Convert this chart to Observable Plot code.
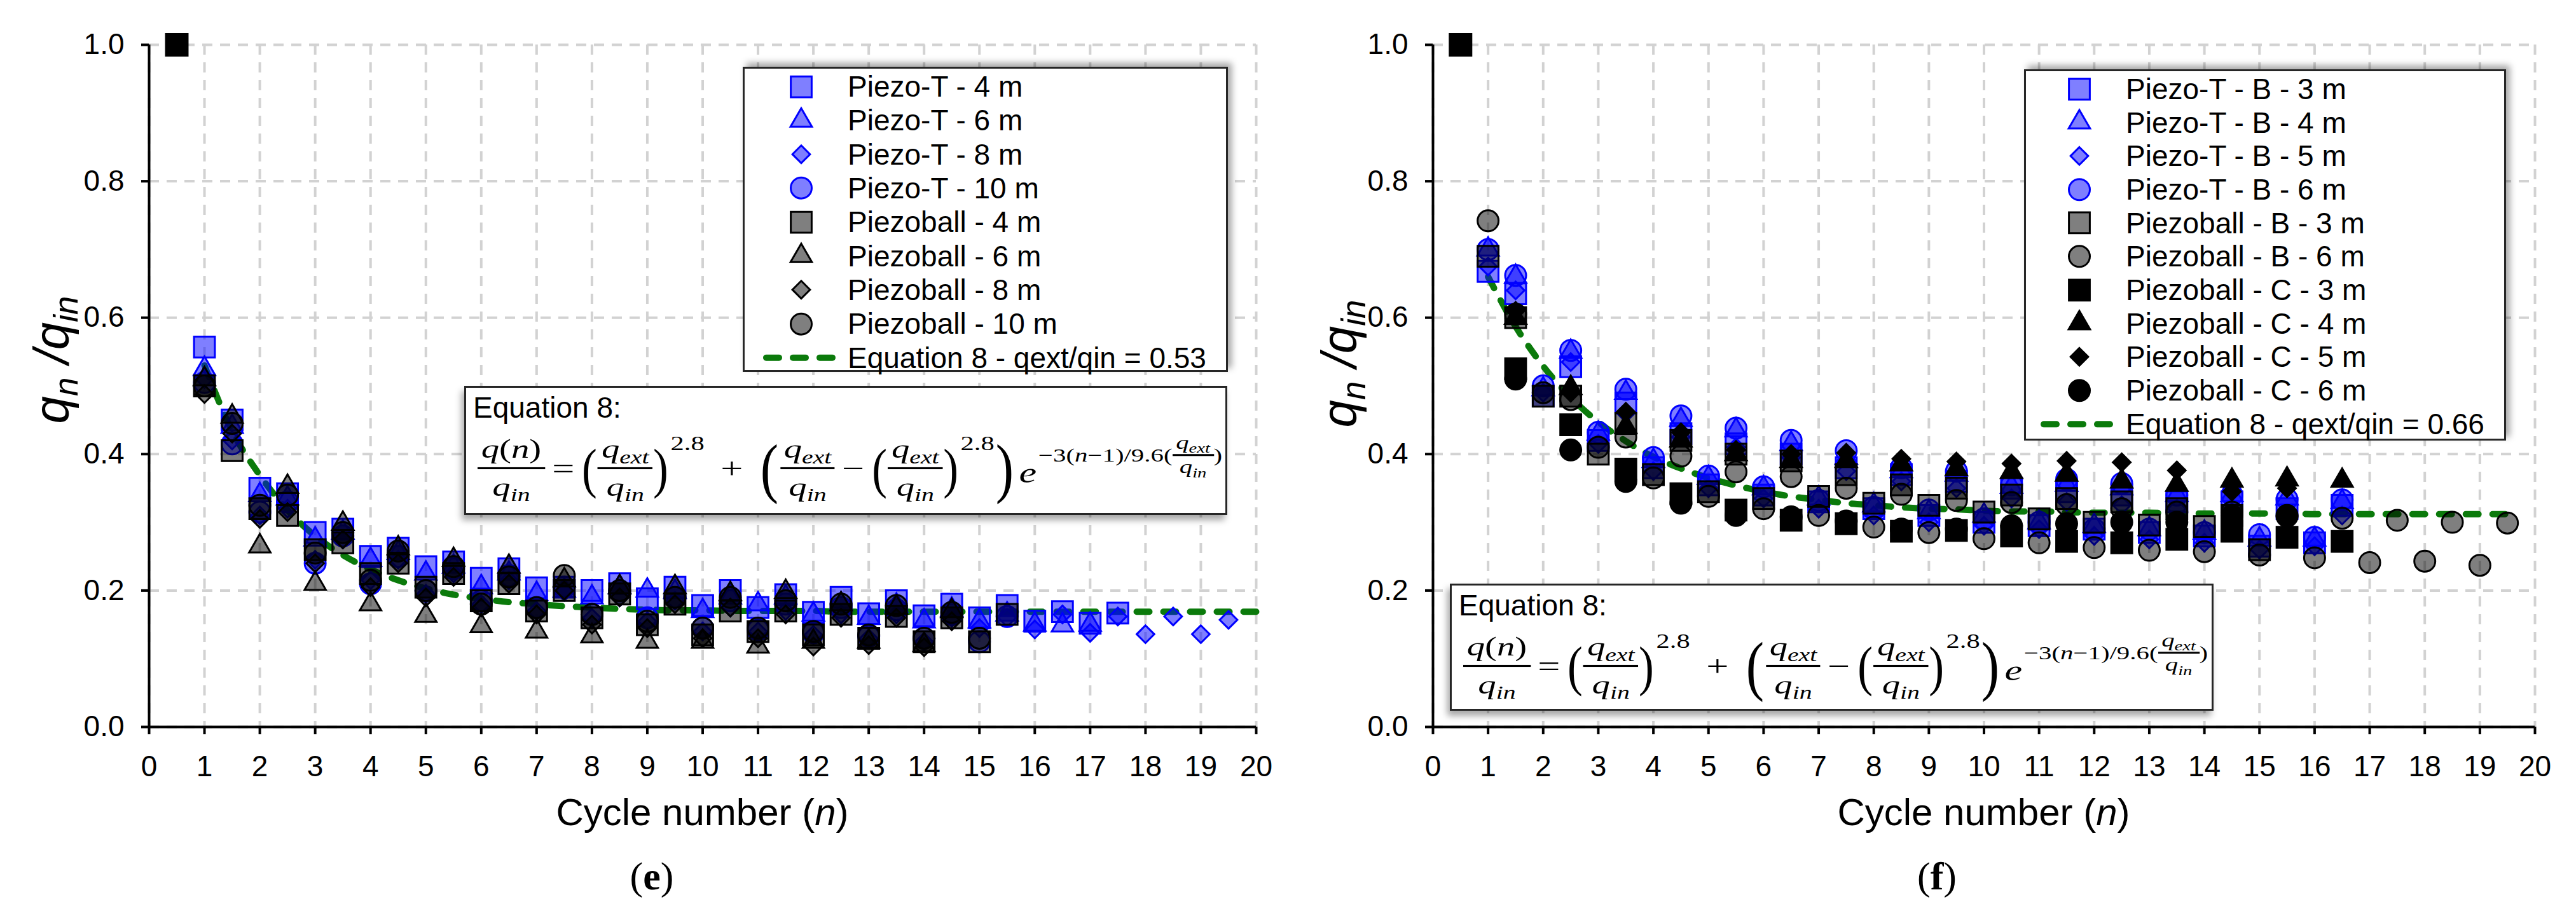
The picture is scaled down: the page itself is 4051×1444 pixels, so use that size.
<!DOCTYPE html>
<html>
<head>
<meta charset="utf-8">
<script src="https://cdn.jsdelivr.net/npm/d3@7"></script>
<script src="https://cdn.jsdelivr.net/npm/@observablehq/plot@0.6"></script>
<style>
  body { margin: 0; background: #fff; }
  #fig { position: relative; width: 4051px; height: 1444px; font-family: "Liberation Sans", Arial, sans-serif; color: #000; overflow: hidden; }
  .panel { position: absolute; top: 0; height: 1444px; }
  .panel svg { position: absolute; left: 0; top: 0; }
  .legend, .eqbox { position: absolute; background: #fff; border: 3px solid #262626; box-sizing: border-box; }
  .legend { box-shadow: 6px -6px 10px rgba(0,0,0,.35); }
  .eqbox { box-shadow: -4px 8px 10px rgba(0,0,0,.35); }
  .row { position: absolute; left: 0; right: 0; display: flex; align-items: center; font-size: 46px; white-space: nowrap; }
  .row svg { position: static; flex: none; }
  .eqtitle { position: absolute; left: 11px; top: 4px; font-size: 46px; white-space: nowrap; }
  .formula { position: absolute; transform-origin: 0 0; display: flex; align-items: center; white-space: nowrap;
             font-family: "Liberation Serif", "DejaVu Serif", serif; font-size: 40px; }
  .formula sub { font-size: .7em; vertical-align: -.3em; line-height: 0; }
  .frac { display: inline-flex; flex-direction: column; align-items: center; line-height: 1.3; }
  .frac .num { border-bottom: 3px solid #000; padding: 0 4px 1px; }
  .frac .den { padding-top: 1px; }
  .bp { font-size: 2.1em; line-height: 1; display: inline-block; transform: scaleX(.6); margin: 0 -5px; }
  .bp.xl { font-size: 2.5em; }
  .op { margin: 0 8px; font-size: 1.1em; }
  .sup { align-self: flex-start; font-size: .75em; margin-left: 2px; }
  .exp { display: inline-flex; align-items: center; font-size: .72em; }
  .exp .frac { line-height: 1.1; }
  .ylab { position: absolute; transform: translate(-50%, -50%) rotate(-90deg); font-size: 78px; font-style: italic; white-space: nowrap; }
  .ylab sub { font-size: .68em; vertical-align: -.25em; }
  .xlab { position: absolute; transform: translate(-50%, -50%); font-size: 60px; white-space: nowrap; }
  .cap { position: absolute; transform: translate(-50%, -50%); font-size: 62px; font-family: "Liberation Serif", serif; }
</style>
</head>
<body>
<div id="fig"></div>
<script>
// axes
const xTicks = [0, 1, 2, 3, 4, 5, 6, 7, 8, 9, 10, 11, 12, 13, 14, 15, 16, 17, 18, 19, 20];
const yTicks = [0, 0.2, 0.4, 0.6, 0.8, 1.0];

// first point, both panels
const firstCycle = [0.5];
const firstValue = [1.0];

// ---- panel (e) ----
const cyclesE = [1, 1.5, 2, 2.5, 3, 3.5, 4, 4.5, 5, 5.5, 6, 6.5, 7, 7.5, 8, 8.5, 9, 9.5, 10, 10.5,
  11, 11.5, 12, 12.5, 13, 13.5, 14, 14.5, 15, 15.5, 16, 16.5, 17, 17.5, 18, 18.5, 19, 19.5, 20];
const labelsE = ["Piezo-T - 4 m", "Piezo-T - 6 m", "Piezo-T - 8 m", "Piezo-T - 10 m",
  "Piezoball - 4 m", "Piezoball - 6 m", "Piezoball - 8 m", "Piezoball - 10 m"];
const piezoT4E = [0.557, 0.45, 0.35, 0.342, 0.285, 0.29, 0.25, 0.262, 0.235, 0.242, 0.218, 0.232, 0.204, 0.205, 0.2, 0.21, 0.188, 0.205, 0.178, 0.2,
  0.175, 0.194, 0.168, 0.19, 0.166, 0.185, 0.163, 0.18, 0.16, 0.178, 0.155, 0.169, 0.152, 0.167, null, null, null, null, null];
const piezoT6E = [0.525, 0.44, 0.34, 0.335, 0.275, 0.285, 0.245, 0.255, 0.225, 0.235, 0.205, 0.225, 0.195, 0.2, 0.19, 0.205, 0.2, 0.198, 0.17, 0.19,
  0.18, 0.19, 0.165, 0.18, 0.16, 0.178, 0.155, 0.172, 0.155, 0.165, 0.15, 0.149, 0.15, null, null, null, null, null, null];
const piezoT8E = [0.51, 0.42, 0.31, 0.32, 0.245, 0.275, 0.215, 0.245, 0.195, 0.225, 0.18, 0.215, 0.17, 0.198, 0.16, 0.19, 0.155, 0.185, 0.14, 0.175,
  0.14, 0.17, 0.135, 0.165, 0.13, 0.165, 0.125, 0.16, 0.145, 0.16, 0.143, 0.165, 0.138, 0.162, 0.136, 0.162, 0.136, 0.157, null];
const piezoT10E = [0.505, 0.415, 0.315, 0.33, 0.24, 0.28, 0.21, 0.25, 0.2, 0.232, 0.185, 0.222, 0.175, 0.205, 0.165, 0.2, 0.16, 0.19, 0.145, 0.185,
  0.142, 0.18, 0.138, 0.175, 0.133, 0.172, 0.13, 0.165, 0.125, 0.162, null, null, null, null, null, null, null, null, null];
const ball4E = [0.5, 0.405, 0.32, 0.31, 0.26, 0.27, 0.225, 0.24, 0.205, 0.225, 0.185, 0.21, 0.17, 0.2, 0.16, 0.195, 0.15, 0.18, 0.135, 0.17,
  0.14, 0.17, 0.135, 0.165, 0.13, 0.162, 0.125, 0.16, 0.125, 0.165, null, null, null, null, null, null, null, null, null];
const ball6E = [0.51, 0.455, 0.265, 0.352, 0.21, 0.298, 0.18, 0.262, 0.163, 0.245, 0.148, 0.235, 0.14, 0.215, 0.133, 0.205, 0.125, 0.205, 0.125, 0.195,
  0.118, 0.198, 0.125, 0.18, 0.125, 0.175, 0.12, 0.17, null, null, null, null, null, null, null, null, null, null, null];
const ball8E = [0.488, 0.43, 0.305, 0.315, 0.24, 0.275, 0.205, 0.24, 0.19, 0.22, 0.175, 0.21, 0.165, 0.2, 0.15, 0.19, 0.145, 0.18, 0.13, 0.175,
  0.13, 0.165, 0.118, 0.16, 0.12, 0.16, 0.117, 0.155, null, null, null, null, null, null, null, null, null, null, null];
const ball10E = [0.5, 0.445, 0.325, 0.34, 0.255, 0.285, 0.215, 0.258, 0.2, 0.235, 0.18, 0.22, 0.175, 0.222, 0.165, 0.2, 0.155, 0.19, 0.145, 0.19,
  0.145, 0.185, 0.14, 0.18, 0.135, 0.178, 0.13, 0.168, 0.13, null, null, null, null, null, null, null, null, null, null];
const eqLabelE = "Equation 8 - qext/qin = 0.53";
const eqLineE = [0.53, 0.434, 0.369, 0.318, 0.28, 0.252, 0.231, 0.215, 0.203, 0.194, 0.188, 0.183, 0.18, 0.177, 0.175, 0.173, 0.172, 0.171, 0.171, 0.17,
  0.17, 0.17, 0.17, 0.169, 0.169, 0.169, 0.169, 0.169, 0.169, 0.169, 0.169, 0.169, 0.169, 0.169, 0.169, 0.169, 0.169, 0.169, 0.169];

// ---- panel (f) ----
const cyclesF = [1, 1.5, 2, 2.5, 3, 3.5, 4, 4.5, 5, 5.5, 6, 6.5, 7, 7.5, 8, 8.5, 9, 9.5, 10, 10.5,
  11, 11.5, 12, 12.5, 13, 13.5, 14, 14.5, 15, 15.5, 16, 16.5, 17, 17.5, 18, 18.5, 19, 19.5];
const labelsF = ["Piezo-T - B - 3 m", "Piezo-T - B - 4 m", "Piezo-T - B - 5 m", "Piezo-T - B - 6 m",
  "Piezoball - B - 3 m", "Piezoball - B - 6 m", "Piezoball - C - 3 m", "Piezoball - C - 4 m",
  "Piezoball - C - 5 m", "Piezoball - C - 6 m"];
const piezoTB3F = [0.668, 0.635, 0.485, 0.528, 0.42, 0.475, 0.38, 0.43, 0.355, 0.415, 0.34, 0.4, 0.33, 0.38, 0.32, 0.37, 0.31, 0.36, 0.3, 0.35,
  0.295, 0.345, 0.29, 0.34, 0.285, 0.33, 0.28, 0.33, 0.265, 0.32, 0.27, 0.325, null, null, null, null, null, null];
const piezoTB4F = [0.7, 0.66, 0.495, 0.55, 0.43, 0.49, 0.39, 0.45, 0.365, 0.435, 0.35, 0.415, 0.335, 0.395, 0.325, 0.375, 0.315, 0.37, 0.31, 0.352,
  0.3, 0.355, 0.295, 0.35, 0.29, 0.34, 0.285, 0.34, 0.275, 0.335, 0.275, 0.33, null, null, null, null, null, null];
const piezoTB5F = [0.675, 0.64, 0.49, 0.535, 0.415, 0.46, 0.375, 0.425, 0.35, 0.41, 0.335, 0.395, 0.32, 0.375, 0.31, 0.36, 0.3, 0.35, 0.295, 0.335,
  0.29, 0.33, 0.28, 0.325, 0.275, 0.32, 0.27, 0.315, 0.26, 0.31, 0.265, 0.31, null, null, null, null, null, null];
const piezoTB6F = [0.7, 0.662, 0.5, 0.552, 0.432, 0.495, 0.395, 0.456, 0.368, 0.438, 0.352, 0.42, 0.332, 0.405, 0.322, 0.38, 0.318, 0.375, 0.305, 0.355,
  0.3, 0.363, 0.29, 0.357, 0.29, 0.34, 0.285, 0.34, 0.282, 0.334, 0.278, 0.333, null, null, null, null, null, null];
const ballB3F = [0.69, 0.6, 0.485, 0.485, 0.4, 0.445, 0.37, 0.42, 0.345, 0.4, 0.335, 0.39, 0.338, 0.37, 0.328, 0.355, 0.325, 0.35, 0.315, 0.34,
  0.305, 0.335, 0.3, 0.33, 0.296, 0.32, 0.294, 0.31, 0.26, null, null, null, null, null, null, null, null, null];
const ballB6F = [0.742, 0.605, 0.49, 0.48, 0.41, 0.425, 0.365, 0.397, 0.338, 0.374, 0.32, 0.367, 0.31, 0.35, 0.293, 0.341, 0.285, 0.332, 0.276, 0.329,
  0.27, 0.326, 0.263, 0.32, 0.259, 0.315, 0.257, 0.315, 0.252, 0.31, 0.248, 0.306, 0.241, 0.303, 0.243, 0.3, 0.237, 0.299];
const ballC3F = [null, 0.525, null, 0.443, null, 0.378, null, 0.342, null, 0.318, null, 0.303, null, 0.298, null, 0.287, null, 0.288, null, 0.28,
  null, 0.272, null, 0.27, null, 0.275, null, 0.287, null, 0.278, null, 0.272, null, null, null, null, null, null];
const ballC4F = [null, 0.6, null, 0.497, null, 0.44, null, 0.42, null, 0.4, null, 0.39, null, 0.39, null, 0.385, null, 0.378, null, 0.374,
  null, 0.37, null, 0.36, null, 0.355, null, 0.361, null, 0.363, null, 0.361, null, null, null, null, null, null];
const ballC5F = [null, 0.61, null, 0.49, null, 0.462, null, 0.432, null, 0.406, null, 0.4, null, 0.402, null, 0.393, null, 0.389, null, 0.386,
  null, 0.39, null, 0.388, null, 0.376, null, 0.345, null, 0.35, null, null, null, null, null, null, null, null];
const ballC6F = [null, 0.51, null, 0.406, null, 0.36, null, 0.328, null, 0.31, null, 0.308, null, 0.302, null, 0.29, null, 0.29, null, 0.295,
  null, 0.298, null, 0.3, null, 0.3, null, 0.31, null, 0.309, null, null, null, null, null, null, null, null];
const eqLabelF = "Equation 8 - qext/qin = 0.66";
const eqLineF = [0.66, 0.587, 0.529, 0.483, 0.447, 0.419, 0.396, 0.379, 0.365, 0.354, 0.345, 0.338, 0.333, 0.328, 0.325, 0.322, 0.32, 0.319, 0.317, 0.316,
  0.316, 0.315, 0.314, 0.314, 0.314, 0.313, 0.313, 0.313, 0.313, 0.313, 0.312, 0.312, 0.312, 0.312, 0.312, 0.312, 0.312, 0.312];

// marker looks
const look = {
  blue: {fill: "#0000ff", fillOpacity: 0.5, stroke: "#0000ff"},
  gray: {fill: "#000", fillOpacity: 0.5, stroke: "#000"},
  black: {fill: "#000", fillOpacity: 1, stroke: "#000"}
};
const radius = {square: 18.5, triangle: 12.5, diamond2: 12.5, circle: 16.5};
const d3sym = {square: d3.symbolSquare, triangle: d3.symbolTriangle, diamond2: d3.symbolDiamond2, circle: d3.symbolCircle};
const green = "#0b7a0b";

const seriesE = [
  [piezoT4E, "square", "blue"], [piezoT6E, "triangle", "blue"], [piezoT8E, "diamond2", "blue"], [piezoT10E, "circle", "blue"],
  [ball4E, "square", "gray"], [ball6E, "triangle", "gray"], [ball8E, "diamond2", "gray"], [ball10E, "circle", "gray"]
].map(([values, symbol, kind], i) => ({values, symbol, kind, label: labelsE[i]}));

const seriesF = [
  [piezoTB3F, "square", "blue"], [piezoTB4F, "triangle", "blue"], [piezoTB5F, "diamond2", "blue"], [piezoTB6F, "circle", "blue"],
  [ballB3F, "square", "gray"], [ballB6F, "circle", "gray"], [ballC3F, "square", "black"], [ballC4F, "triangle", "black"],
  [ballC5F, "diamond2", "black"], [ballC6F, "circle", "black"]
].map(([values, symbol, kind], i) => ({values, symbol, kind, label: labelsF[i]}));

const QEXT = '<i>q</i><sub><i>ext</i></sub>';
const QIN = '<i>q</i><sub><i>in</i></sub>';
const frac = (a, b) => `<span class="frac"><span class="num">${a}</span><span class="den">${b}</span></span>`;
const formulaHTML =
  frac('<i>q</i>(<i>n</i>)', QIN) +
  '<span class="op">=</span>' +
  '<span class="bp">(</span>' + frac(QEXT, QIN) + '<span class="bp">)</span><span class="sup">2.8</span>' +
  '<span class="op" style="margin:0 18px">+</span>' +
  '<span class="bp xl">(</span>' + frac(QEXT, QIN) + '<span class="op">−</span>' +
  '<span class="bp">(</span>' + frac(QEXT, QIN) + '<span class="bp">)</span><span class="sup">2.8</span>' +
  '<span class="bp xl">)</span><i style="font-size:1.1em;margin-left:4px;align-self:flex-end;margin-bottom:22px">e</i>' +
  '<span class="sup exp">−3(<i>n</i>−1)/9.6(' + frac(QEXT, QIN) + ')</span>';

const fig = document.getElementById("fig");
const fits = [];

function drawPanel(p) {
  const div = document.createElement("div");
  div.className = "panel";
  div.style.left = p.left + "px";
  div.style.width = p.width + "px";
  fig.appendChild(div);

  const grid = {stroke: "#d2d2d2", strokeOpacity: 1, strokeWidth: 4, strokeDasharray: "16,12"};
  const chart = Plot.plot({
    width: p.width,
    height: 1320,
    marginLeft: p.marginLeft,
    marginRight: p.marginRight,
    marginTop: 70,
    marginBottom: 177,
    x: {domain: [0, 20]},
    y: {domain: [0, 1]},
    style: {background: "none", color: "#000", fontFamily: "'Liberation Sans', Arial, sans-serif", fontSize: "46px", overflow: "visible"},
    marks: [
      Plot.gridX(xTicks, grid),
      Plot.gridY(yTicks, grid),
      Plot.line(p.eq, {x: p.cycles, y: p.eq, stroke: green, strokeWidth: 10, strokeDasharray: "20,22", strokeLinecap: "round", curve: "monotone-x"}),
      ...p.series.map(s => Plot.dot(s.values, {x: p.cycles, y: s.values, symbol: s.symbol, r: radius[s.symbol], strokeWidth: 3, ...look[s.kind]})),
      Plot.dot(firstValue, {x: firstCycle, y: firstValue, symbol: "square", r: 20, fill: "#000", stroke: "#000"}),
      Plot.ruleX([0], {strokeWidth: 4}),
      Plot.ruleY([0], {strokeWidth: 4}),
      Plot.axisX(xTicks, {tickSize: 12, tickPadding: 33, strokeWidth: 4, fontSize: 46, label: null}),
      Plot.axisY(yTicks, {tickSize: 12, tickPadding: 27, strokeWidth: 4, fontSize: 46, tickFormat: d => d.toFixed(1), label: null})
    ]
  });
  div.appendChild(chart);

  // legend
  const lg = document.createElement("div");
  lg.className = "legend";
  Object.assign(lg.style, {left: p.legend.x + "px", top: p.legend.y + "px", width: p.legend.w + "px", height: p.legend.h + "px"});
  const items = p.series.map(s => ({label: s.label, s})).concat([{label: p.eqLabel, line: true}]);
  items.forEach((it, i) => {
    const row = document.createElement("div");
    row.className = "row";
    row.style.top = (p.legend.pad + i * p.legend.step) + "px";
    row.style.height = p.legend.step + "px";
    const svg = d3.create("svg").attr("width", p.legend.text).attr("height", p.legend.step);
    const cy = p.legend.step / 2;
    if (it.line) {
      svg.append("line").attr("x1", p.legend.dash[0]).attr("x2", p.legend.dash[1]).attr("y1", cy).attr("y2", cy)
        .attr("stroke", green).attr("stroke-width", 10).attr("stroke-dasharray", "20,22").attr("stroke-linecap", "round");
    } else {
      const st = look[it.s.kind], r = radius[it.s.symbol];
      svg.append("path").attr("d", d3.symbol(d3sym[it.s.symbol], Math.PI * r * r)())
        .attr("transform", `translate(${p.legend.sym},${cy})`)
        .attr("fill", st.fill).attr("fill-opacity", st.fillOpacity).attr("stroke", st.stroke).attr("stroke-width", 3);
    }
    row.appendChild(svg.node());
    const t = document.createElement("span");
    t.textContent = it.label;
    row.appendChild(t);
    lg.appendChild(row);
  });
  div.appendChild(lg);

  // equation box
  const eb = document.createElement("div");
  eb.className = "eqbox";
  Object.assign(eb.style, {left: p.eqbox.x + "px", top: p.eqbox.y + "px", width: p.eqbox.w + "px", height: p.eqbox.h + "px"});
  eb.innerHTML = '<div class="eqtitle">Equation 8:</div><div class="formula">' + formulaHTML + '</div>';
  div.appendChild(eb);
  const f = eb.querySelector(".formula");
  f.style.left = "18px";
  f.style.top = "70px";
  fits.push(f);

  // axis titles and caption
  const yl = document.createElement("div");
  yl.className = "ylab";
  yl.style.left = p.ylab[0] + "px";
  yl.style.top = p.ylab[1] + "px";
  yl.innerHTML = 'q<sub>n</sub> /q<sub>in</sub>';
  div.appendChild(yl);

  const xl = document.createElement("div");
  xl.className = "xlab";
  xl.style.left = (p.marginLeft + (p.width - p.marginLeft - p.marginRight) / 2) + "px";
  xl.style.top = "1277px";
  xl.innerHTML = 'Cycle number (<i>n</i>)';
  div.appendChild(xl);

  const cap = document.createElement("div");
  cap.className = "cap";
  cap.style.left = p.capX + "px";
  cap.style.top = "1378px";
  cap.innerHTML = '(<b>' + p.cap + '</b>)';
  div.appendChild(cap);
}

drawPanel({
  left: 0, width: 2025, marginLeft: 234, marginRight: 50,
  cycles: cyclesE, series: seriesE, eq: eqLineE, eqLabel: eqLabelE,
  legend: {x: 1168, y: 105, w: 763, h: 480, pad: 1.5, step: 53.3, sym: 89, text: 162, dash: [34, 139]},
  eqbox: {x: 730, y: 607, w: 1200, h: 203},
  ylab: [85, 566], capX: 1025, cap: "e"
});
drawPanel({
  left: 2025, width: 2026, marginLeft: 228, marginRight: 65,
  cycles: cyclesF, series: seriesF, eq: eqLineF, eqLabel: eqLabelF,
  legend: {x: 1158, y: 109, w: 758, h: 584, pad: 1.5, step: 52.7, sym: 84, text: 157, dash: [28, 133]},
  eqbox: {x: 255, y: 918, w: 1201, h: 200},
  ylab: [85, 572], capX: 1021, cap: "f"
});

function fitFormulas() {
  fits.forEach(f => {
    f.style.transform = "none";
    const w = f.offsetWidth, h = f.offsetHeight;
    f.style.transform = `scale(${1171 / w}, ${113 / h})`;
  });
}
fitFormulas();
if (document.fonts && document.fonts.ready) document.fonts.ready.then(fitFormulas);
</script>
</body>
</html>
